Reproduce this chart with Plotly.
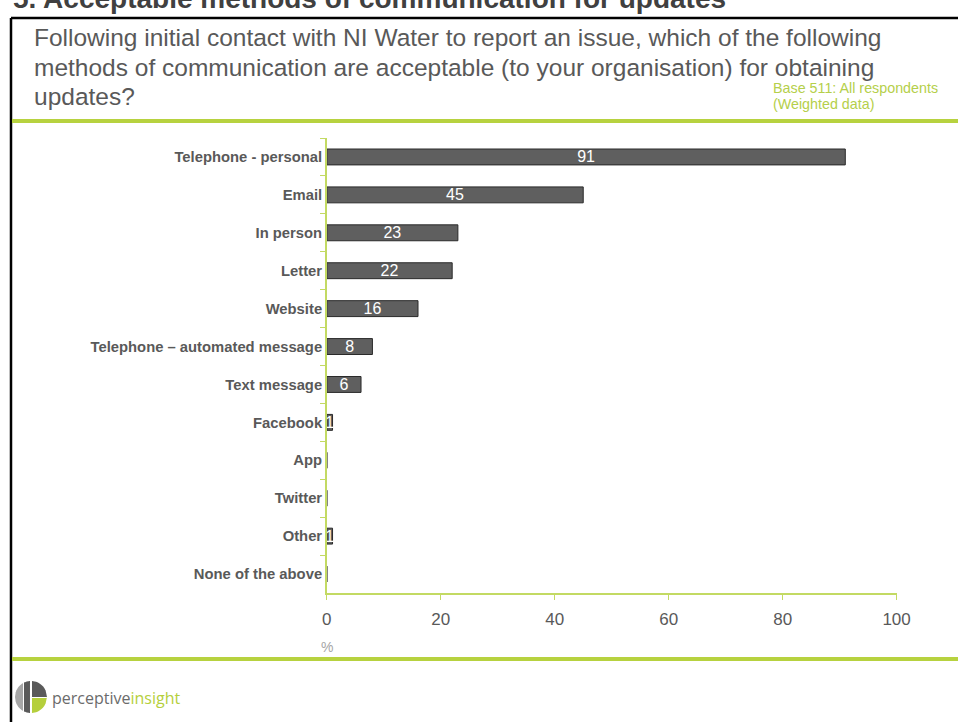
import plotly.graph_objects as go
import numpy as np

# Survey results (% of respondents, weighted)
categories = [
    "Telephone - personal", "Email", "In person", "Letter", "Website",
    "Telephone \u2013 automated message", "Text message", "Facebook",
    "App", "Twitter", "Other", "None of the above",
]
values = [91, 45, 23, 22, 16, 8, 6, 1, 0, 0, 1, 0]
x_ticks = [0, 20, 40, 60, 80, 100]

W, H = 976, 722
GREEN = "#b7d23f"
AXIS_GREEN = "#c3da63"
GREY_TXT = "#595959"
FONT = "Arial, Liberation Sans, sans-serif"

# horizontal page-to-canvas correction for the rendered page
X_OFF, X_SCALE = 4.0, 0.981


def px(x):
    return ((x - X_OFF) / X_SCALE) / W


def py(y):
    return 1 - y / H


labels = [str(v) if v > 0 else "" for v in values]

fig = go.Figure(
    go.Bar(
        y=categories,
        x=values,
        orientation="h",
        text=labels,
        textposition="inside",
        insidetextanchor="middle",
        textangle=0,
        constraintext="none",
        textfont=dict(color="white", size=16, family=FONT),
        marker=dict(color="#5f5f5f", line=dict(color="#2a2a2a", width=1)),
        hoverinfo="skip",
    )
)

fig.update_layout(
    width=W,
    height=H,
    autosize=False,
    margin=dict(l=0, r=0, t=0, b=0),
    paper_bgcolor="white",
    plot_bgcolor="white",
    showlegend=False,
    bargap=0.58,
    font=dict(family=FONT, color=GREY_TXT),
    xaxis=dict(
        domain=[px(326), px(896)],
        range=[0, 100],
        tickvals=x_ticks,
        ticks="outside",
        ticklen=5,
        tickcolor=AXIS_GREEN,
        showline=True,
        linecolor=AXIS_GREEN,
        linewidth=1.5,
        showgrid=False,
        zeroline=False,
        ticklabelstandoff=5,
        tickfont=dict(size=17, color=GREY_TXT, family=FONT),
        anchor="y",
    ),
    yaxis=dict(
        domain=[py(593), py(138)],
        type="category",
        categoryorder="array",
        categoryarray=categories,
        range=[len(categories) - 0.5, -0.5],
        tickson="boundaries",
        ticks="outside",
        ticklen=5,
        tickcolor=AXIS_GREEN,
        showline=True,
        linecolor=AXIS_GREEN,
        linewidth=1.5,
        showgrid=False,
        zeroline=False,
        tickfont=dict(size=14.8, color=GREY_TXT, family=FONT, weight="bold"),
        anchor="x",
    ),
)

shapes = []
# slide frame
shapes.append(dict(type="line", xref="paper", yref="paper",
                   x0=px(10), x1=1, y0=py(18), y1=py(18),
                   line=dict(color="black", width=2.5)))
shapes.append(dict(type="line", xref="paper", yref="paper",
                   x0=px(10), x1=px(10), y0=py(18), y1=py(722),
                   line=dict(color="black", width=2.5)))
# green separators
for yy in (121, 659):
    shapes.append(dict(type="line", xref="paper", yref="paper",
                       x0=px(11), x1=1, y0=py(yy), y1=py(yy),
                       line=dict(color=GREEN, width=4)))


# logo: circle split into vertical strips
def strip_path(cx, cy, r, xa, xb, ya=None, yb=None):
    xs = np.linspace(xa, xb, 12)
    top = cy - np.sqrt(np.clip(r * r - (xs - cx) ** 2, 0, None))
    bot = cy + np.sqrt(np.clip(r * r - (xs - cx) ** 2, 0, None))
    if ya is not None:
        top = np.maximum(top, ya)
    if yb is not None:
        bot = np.minimum(bot, yb)
    pts = [(x, t) for x, t in zip(xs, top)] + [(x, b) for x, b in zip(xs[::-1], bot[::-1])]
    d = "M " + " L ".join(f"{px(x):.5f},{py(y):.5f}" for x, y in pts) + " Z"
    return d


cx, cy, r = 30, 697, 16
for xa, xb, ya, yb, col in [
    (cx - r, cx - 8, None, None, "#a6a6a6"),
    (cx - 7, cx - 1, None, None, "#5a5a5a"),
    (cx + 1, cx + r, None, cy, "#5a5a5a"),
    (cx + 1, cx + r, cy + 1, None, "#b5cf3c"),
]:
    shapes.append(dict(type="path", xref="paper", yref="paper",
                       path=strip_path(cx, cy, r, xa, xb, ya, yb),
                       fillcolor=col, line=dict(width=0)))
fig.update_layout(shapes=shapes)

ann = []
# slide heading (runs off the top of the page)
ann.append(dict(x=px(10), y=py(16), xref="paper", yref="paper",
                xanchor="left", yanchor="bottom", showarrow=False,
                text="<b>5. Acceptable methods of communication for updates</b>",
                font=dict(size=28, color="#404040", family=FONT)))
# question text
q_lines = [
    "Following initial contact with NI Water to report an issue, which of the following",
    "methods of communication are acceptable (to your organisation) for obtaining",
    "updates?",
]
for i, line in enumerate(q_lines):
    ann.append(dict(x=px(31), y=py(38 + 29.5 * i), xref="paper", yref="paper",
                    xanchor="left", yanchor="middle", showarrow=False,
                    text=line, font=dict(size=24.5, color=GREY_TXT, family=FONT)))
# base note
for i, line in enumerate(["Base 511: All respondents", "(Weighted data)"]):
    ann.append(dict(x=px(770), y=py(88 + 15.5 * i), xref="paper", yref="paper",
                    xanchor="left", yanchor="middle", showarrow=False,
                    text=line, font=dict(size=14.3, color="#b5cf4a", family=FONT)))
# axis unit
ann.append(dict(x=px(326), y=py(647), xref="paper", yref="paper",
                xanchor="center", yanchor="middle", showarrow=False,
                text="%", font=dict(size=14, color="#a6a6a6", family=FONT)))
# company name
ann.append(dict(x=px(49), y=py(698), xref="paper", yref="paper",
                xanchor="left", yanchor="middle", showarrow=False,
                text="perceptive<span style='color:#b5cf3c'>insight</span>",
                font=dict(size=16, color="#6b6b6b", family="Open Sans, Arial")))
fig.update_layout(annotations=ann)

fig.write_html(
    "out.html",
    config={"responsive": False, "displayModeBar": False},
)
